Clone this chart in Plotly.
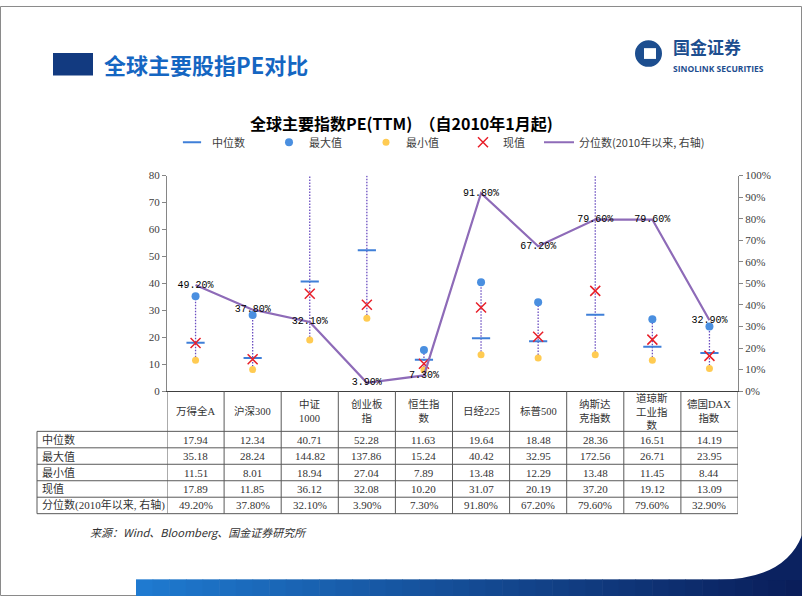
import plotly.graph_objects as go

W, H = 802, 602

# ---------------- data ----------------
categories = ["万得全A", "沪深300", "中证1000", "创业板指", "恒生指数",
              "日经225", "标普500", "纳斯达克指数", "道琼斯工业指数", "德国DAX指数"]
header_labels = ["万得全A", "沪深300", "中证<br>1000", "创业板<br>指", "恒生指<br>数",
                 "日经225", "标普500", "纳斯达<br>克指数", "道琼斯<br>工业指<br>数", "德国DAX<br>指数"]
median_pe = [17.94, 12.34, 40.71, 52.28, 11.63, 19.64, 18.48, 28.36, 16.51, 14.19]
max_pe = [35.18, 28.24, 144.82, 137.86, 15.24, 40.42, 32.95, 172.56, 26.71, 23.95]
min_pe = [11.51, 8.01, 18.94, 27.04, 7.89, 13.48, 12.29, 13.48, 11.45, 8.44]
current_pe = [17.89, 11.85, 36.12, 32.08, 10.20, 31.07, 20.19, 37.20, 19.12, 13.09]
percentile = [49.2, 37.8, 32.1, 3.9, 7.3, 91.8, 67.2, 79.6, 79.6, 32.9]
row_labels = ["中位数", "最大值", "最小值", "现值", "分位数(2010年以来, 右轴)"]
left_ticks = [0, 10, 20, 30, 40, 50, 60, 70, 80]
right_ticks = [0, 10, 20, 30, 40, 50, 60, 70, 80, 90, 100]


def fx(p):
    return p / W


def fy(p):
    return 1 - p / H


SERIF = "Liberation Serif, Noto Sans CJK SC"
CJK = "Noto Sans CJK SC"
GRID = "#595959"

fig = go.Figure()

# hi-lo dotted lines
hx, hy = [], []
for c, lo, hi in zip(categories, min_pe, max_pe):
    hx += [c, c, None]
    hy += [lo, hi, None]
fig.add_trace(go.Scatter(x=hx, y=hy, mode="lines", showlegend=False, hoverinfo="skip",
                         line=dict(color="#6A4DC0", width=1.3, dash="1.5px,1.5px")))

fig.add_trace(go.Scatter(x=categories, y=median_pe, mode="markers", name="中位数",
                         marker=dict(symbol="line-ew", size=13,
                                     line=dict(color="#3F7FD8", width=2))))
fig.add_trace(go.Scatter(x=categories, y=max_pe, mode="markers", name="最大值",
                         marker=dict(symbol="circle", size=8, color="#4A8FE0")))
fig.add_trace(go.Scatter(x=categories, y=min_pe, mode="markers", name="最小值",
                         marker=dict(symbol="circle", size=7, color="#FFCB52")))
fig.add_trace(go.Scatter(x=categories, y=current_pe, mode="markers", name="现值",
                         marker=dict(symbol="x-thin", size=10,
                                     line=dict(color="#E8202A", width=1.5))))
fig.add_trace(go.Scatter(x=categories, y=percentile, yaxis="y2", mode="lines",
                         name="分位数(2010年以来, 右轴)", legend="legend2",
                         line=dict(color="#8E6BB8", width=2.2)))
fig.add_trace(go.Scatter(x=categories, y=percentile, yaxis="y2", mode="text",
                         text=[f"{v:.2f}%" for v in percentile], textposition="middle center",
                         textfont=dict(family="Liberation Mono", size=10, color="#000000"),
                         showlegend=False, cliponaxis=False, hoverinfo="skip"))

shapes = []
annotations = []

# ---------------- table (drawn on the category axis) ----------------
TBL_LEFT, TBL_TOP, HDR_BOTTOM = 37, 393, 434
ROW_H = 16.8
n_rows = len(row_labels)
row_edges = [HDR_BOTTOM + ROW_H * r for r in range(n_rows + 1)]
tbl_bottom = row_edges[-1]

for yb in row_edges:
    shapes.append(dict(type="line", xref="paper", yref="paper", x0=fx(TBL_LEFT), x1=fx(738),
                       y0=fy(yb), y1=fy(yb), line=dict(color=GRID, width=1)))
shapes.append(dict(type="line", xref="paper", yref="paper", x0=fx(TBL_LEFT), x1=fx(TBL_LEFT),
                   y0=fy(HDR_BOTTOM), y1=fy(tbl_bottom), line=dict(color=GRID, width=1)))
for i in range(len(categories) + 1):
    shapes.append(dict(type="line", xref="x", yref="paper", x0=i - 0.5, x1=i - 0.5,
                       y0=fy(TBL_TOP), y1=fy(tbl_bottom), line=dict(color=GRID, width=1)))

for c, lab in zip(categories, header_labels):
    annotations.append(dict(text=lab, x=c, y=fy((TBL_TOP + HDR_BOTTOM) / 2), xref="x", yref="paper",
                            xanchor="center", yanchor="middle", showarrow=False,
                            font=dict(family=SERIF, size=10.5, color="#333333")))

row_series = [
    [f"{v:.2f}" for v in median_pe],
    [f"{v:.2f}" for v in max_pe],
    [f"{v:.2f}" for v in min_pe],
    [f"{v:.2f}" for v in current_pe],
    [f"{v:.2f}%" for v in percentile],
]
for r, (lab, vals) in enumerate(zip(row_labels, row_series)):
    yc = fy(row_edges[r] + ROW_H / 2)
    annotations.append(dict(text=lab, x=fx(TBL_LEFT + 3), y=yc, xref="paper", yref="paper",
                            xanchor="left", yanchor="middle", showarrow=False,
                            font=dict(family=SERIF, size=11, color="#333333")))
    for c, v in zip(categories, vals):
        annotations.append(dict(text=v, x=c, y=yc, xref="x", yref="paper",
                                xanchor="center", yanchor="middle", showarrow=False,
                                font=dict(family=SERIF, size=11, color="#333333")))

# ---------------- slide decoration ----------------
shapes.append(dict(type="rect", xref="paper", yref="paper", x0=fx(0.5), x1=fx(801.5), y0=fy(601.5),
                   y1=fy(0.5), line=dict(color="#8A8A8A", width=1), fillcolor="rgba(0,0,0,0)",
                   layer="below"))
shapes.append(dict(type="rect", xref="paper", yref="paper", x0=fx(53), x1=fx(93), y0=fy(71), y1=fy(48),
                   line=dict(width=0), fillcolor="#123A80"))
n = 40
x_start, x_end = 136, 802
c0 = (31, 122, 208)
c1 = (10, 30, 90)
for i in range(n):
    t = i / (n - 1)
    col = tuple(int(c0[k] + (c1[k] - c0[k]) * t) for k in range(3))
    xa = x_start + (x_end - x_start) * i / n
    xb = x_start + (x_end - x_start) * (i + 1) / n + 0.6
    shapes.append(dict(type="rect", xref="paper", yref="paper", x0=fx(xa), x1=fx(xb),
                       y0=fy(602), y1=fy(585), line=dict(width=0),
                       fillcolor=f"rgb{col}"))
shapes.append(dict(type="path", xref="paper", yref="paper",
                   path=f"M {fx(718)},{fy(585.5)} Q {fx(785)},{fy(585)} {fx(802)},{fy(540)} L {fx(802)},{fy(586)} Z",
                   line=dict(width=0), fillcolor="#0B2260"))
shapes.append(dict(type="circle", xref="paper", yref="paper", x0=fx(635), x1=fx(662), y0=fy(62), y1=fy(35),
                   line=dict(width=0), fillcolor="#1D4E8F"))
shapes.append(dict(type="rect", xref="paper", yref="paper", x0=fx(644), x1=fx(656), y0=fy(54), y1=fy(43),
                   line=dict(width=0), fillcolor="white"))

annotations += [
    dict(text="<b>全球主要股指PE对比</b>", x=fx(102), y=fy(59), xref="paper", yref="paper",
         xanchor="left", yanchor="middle", showarrow=False,
         font=dict(family=CJK, size=22, color="#1566C2")),
    dict(text="<b>国金证券</b>", x=fx(671), y=fy(56), xref="paper", yref="paper",
         xanchor="left", yanchor="bottom", showarrow=False,
         font=dict(family=CJK, size=17, color="#1D4E8F")),
    dict(text="<b>SINOLINK SECURITIES</b>", x=fx(671), y=fy(56.5), xref="paper", yref="paper",
         xanchor="left", yanchor="top", showarrow=False,
         font=dict(family="Open Sans", size=8.5, color="#1D4E8F")),
    dict(text="<b>全球主要指数PE(TTM)  （自2010年1月起)</b>", x=fx(401), y=fy(119), xref="paper",
         yref="paper", xanchor="center", yanchor="middle", showarrow=False,
         font=dict(family=CJK, size=16, color="#000000")),
    dict(text="来源：Wind、Bloomberg、国金证券研究所", x=fx(88), y=fy(537), xref="paper", yref="paper",
         xanchor="left", yanchor="middle", showarrow=False,
         font=dict(family=CJK, size=11, color="#333333", style="italic")),
]

legend_font = dict(family=CJK, size=11, color="#404040")
fig.update_layout(
    width=W, height=H,
    margin=dict(l=0, r=0, t=0, b=0),
    paper_bgcolor="white", plot_bgcolor="rgba(0,0,0,0)",
    showlegend=True,
    legend=dict(orientation="h", x=fx(172), y=fy(139), xanchor="left", yanchor="middle",
                entrywidth=52, entrywidthmode="pixels", itemwidth=30, traceorder="normal",
                bgcolor="rgba(0,0,0,0)", font=legend_font),
    legend2=dict(orientation="h", x=fx(539), y=fy(139), xanchor="left", yanchor="middle",
                 itemwidth=30, bgcolor="rgba(0,0,0,0)", font=legend_font),
    xaxis=dict(domain=[fx(167), fx(738)], type="category", range=[-0.5, len(categories) - 0.5],
               showticklabels=False, ticks="", showgrid=False, zeroline=False,
               showline=True, linecolor="#404040", linewidth=1, fixedrange=True),
    yaxis=dict(domain=[fy(393), fy(173)], range=[0, 80], tickvals=left_ticks,
               showgrid=False, zeroline=False, showline=True, linecolor="#868686", linewidth=1,
               ticks="outside", ticklen=4, tickcolor="#868686",
               tickfont=dict(family="Liberation Serif", size=11, color="#404040")),
    yaxis2=dict(overlaying="y", side="right", range=[0, 100], tickvals=right_ticks,
                ticktext=[f"{v}%" for v in right_ticks], showgrid=False, zeroline=False,
                showline=True, linecolor="#868686", linewidth=1, ticks="outside", ticklen=4,
                tickcolor="#868686",
                tickfont=dict(family="Liberation Serif", size=11, color="#404040"), anchor="x"),
    shapes=shapes,
    annotations=annotations,
)

fig.write_html("out.html", config={"displayModeBar": False},
               post_script="document.body.style.margin='0';document.body.style.overflow='hidden';")
